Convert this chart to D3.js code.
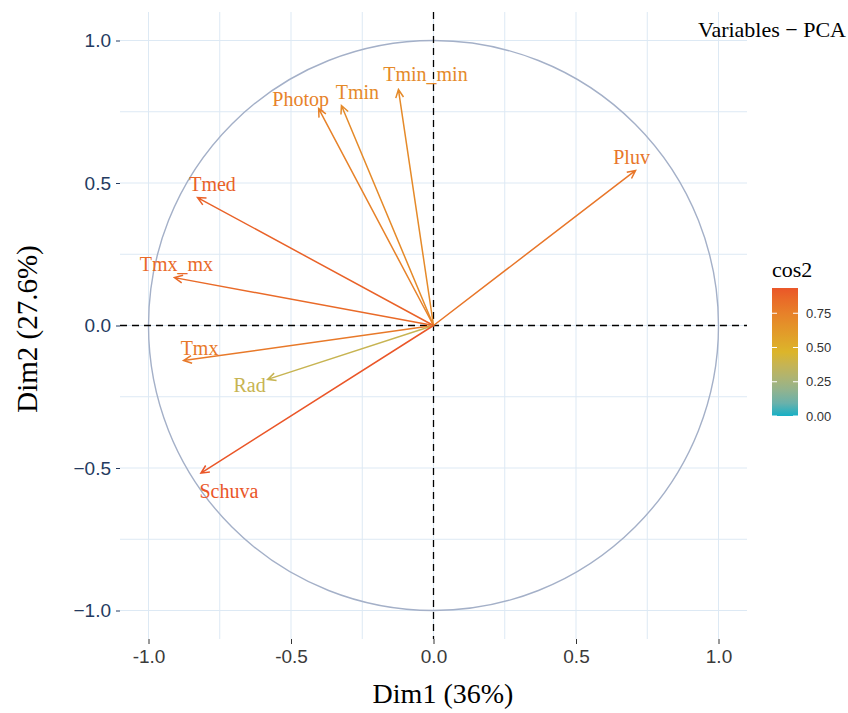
<!DOCTYPE html>
<html>
<head>
<meta charset="utf-8">
<script src="https://cdn.jsdelivr.net/npm/d3@7"></script>
<style>
  body { margin: 0; background: #ffffff; }
  svg { display: block; }
</style>
</head>
<body>
<div id="chart"></div>
<script>
// PCA variable coordinates
let variables = ["Pluv", "Tmin_min", "Tmin", "Photop", "Tmed", "Tmx_mx", "Tmx", "Rad", "Schuva"];
let dim1 = [0.709, -0.123, -0.323, -0.403, -0.828, -0.909, -0.877, -0.582, -0.816];
let dim2 = [0.544, 0.828, 0.772, 0.761, 0.449, 0.168, -0.123, -0.189, -0.518];

let xTicks = [-1.0, -0.5, 0.0, 0.5, 1.0];
let yTicks = [-1.0, -0.5, 0.0, 0.5, 1.0];
let legendTicks = [0, 0.25, 0.5, 0.75];

// label nudges in px (layout only)
let labelNudge = {
  Pluv: [-4, -13], Tmin_min: [27, -16], Tmin: [16, -13], Photop: [-18, -10],
  Tmed: [15, -14], Tmx_mx: [2, -14], Tmx: [16, -13], Rad: [-18, 6], Schuva: [28, 18]
};

let svgWidth = 848;
let svgHeight = 713;

let svg = d3.select("#chart")
  .append("svg")
  .attr("width", svgWidth)
  .attr("height", svgHeight);

let data = variables.map((v, i) => ({
  name: v, x: dim1[i], y: dim2[i], cos2: dim1[i] * dim1[i] + dim2[i] * dim2[i]
}));
let maxCos2 = d3.max(data, d => d.cos2);

let x = d3.scaleLinear().domain([-1.1, 1.1]).range([120, 747]);
let y = d3.scaleLinear().domain([-1.1, 1.1]).range([639, 12]);

let color = d3.scaleLinear()
  .domain([0, maxCos2 / 2, maxCos2])
  .range(["#16b0c6", "#dcb52a", "#ea5628"])
  .interpolate(d3.interpolateLab);

// grid
let gridCol = "#dde9f4";
let gridVals = d3.range(-1, 1.01, 0.25);
svg.append("g").selectAll("line").data(gridVals).enter().append("line")
  .attr("x1", d => x(d)).attr("x2", d => x(d))
  .attr("y1", y(1.1)).attr("y2", y(-1.1))
  .attr("stroke", gridCol).attr("stroke-width", 1);
svg.append("g").selectAll("line").data(gridVals).enter().append("line")
  .attr("y1", d => y(d)).attr("y2", d => y(d))
  .attr("x1", x(-1.1)).attr("x2", x(1.1))
  .attr("stroke", gridCol).attr("stroke-width", 1);

// correlation circle
svg.append("circle")
  .attr("cx", x(0)).attr("cy", y(0))
  .attr("r", x(1) - x(0))
  .attr("fill", "none")
  .attr("stroke", "#a4b0c8")
  .attr("stroke-width", 1.4);

// dashed axes
svg.append("line")
  .attr("x1", x(-1.1)).attr("x2", x(1.1))
  .attr("y1", y(0)).attr("y2", y(0))
  .attr("stroke", "#000").attr("stroke-width", 1.3)
  .attr("stroke-dasharray", "7,5");
svg.append("line")
  .attr("x1", x(0)).attr("x2", x(0))
  .attr("y1", y(1.1)).attr("y2", y(-1.1))
  .attr("stroke", "#000").attr("stroke-width", 1.3)
  .attr("stroke-dasharray", "7,5");

// axes
let xAxis = svg.append("g")
  .attr("transform", `translate(0, ${y(-1.1)})`)
  .call(d3.axisBottom(x).tickValues(xTicks).tickSize(5).tickPadding(6)
    .tickFormat(d => d3.format(".1f")(d).replace("\u2212", "-")));
let yAxis = svg.append("g")
  .attr("transform", `translate(${x(-1.1)}, 0)`)
  .call(d3.axisLeft(y).tickValues(yTicks).tickSize(4).tickPadding(5)
    .tickFormat(d3.format(".1f")));

xAxis.select(".domain").remove();
yAxis.select(".domain").remove();
xAxis.selectAll("text").attr("font-family", "Liberation Sans, Arial, sans-serif")
  .attr("font-size", 19).attr("fill", "#3a3a3a");
xAxis.selectAll("line").attr("stroke", "#333");
yAxis.selectAll("text").attr("font-family", "Liberation Sans, Arial, sans-serif")
  .attr("font-size", 19).attr("fill", "#243a60");
yAxis.selectAll("line").attr("stroke", "#243a60");

// arrows
let arrows = svg.append("g");
data.forEach(function(d) {
  let x0 = x(0), y0 = y(0), x1 = x(d.x), y1 = y(d.y);
  let ang = Math.atan2(y1 - y0, x1 - x0);
  let len = 9, spread = Math.PI / 7;
  let c = color(d.cos2);
  let path = `M${x0},${y0}L${x1},${y1}` +
    `M${x1 - len * Math.cos(ang - spread)},${y1 - len * Math.sin(ang - spread)}L${x1},${y1}` +
    `L${x1 - len * Math.cos(ang + spread)},${y1 - len * Math.sin(ang + spread)}`;
  arrows.append("path")
    .attr("d", path)
    .attr("fill", "none")
    .attr("stroke", c)
    .attr("stroke-width", 1.5);
  let n = labelNudge[d.name];
  arrows.append("text")
    .attr("x", x1 + n[0])
    .attr("y", y1 + n[1])
    .attr("text-anchor", "middle")
    .attr("dominant-baseline", "central")
    .attr("font-family", "Liberation Serif, Times New Roman, serif")
    .attr("font-size", 20)
    .attr("fill", c)
    .text(d.name);
});

// titles
svg.append("text")
  .attr("x", 846).attr("y", 37)
  .attr("text-anchor", "end")
  .attr("font-family", "Liberation Serif, Times New Roman, serif")
  .attr("font-size", 22)
  .text("Variables \u2212 PCA");

svg.append("text")
  .attr("x", 443).attr("y", 703)
  .attr("text-anchor", "middle")
  .attr("font-family", "Liberation Serif, Times New Roman, serif")
  .attr("font-size", 28)
  .text("Dim1 (36%)");

svg.append("text")
  .attr("transform", "translate(37, 329) rotate(-90)")
  .attr("text-anchor", "middle")
  .attr("font-family", "Liberation Serif, Times New Roman, serif")
  .attr("font-size", 29)
  .text("Dim2 (27.6%)");

// legend
let ly = d3.scaleLinear().domain([0, 1]).range([416, 279]);
let defs = svg.append("defs");
let grad = defs.append("linearGradient")
  .attr("id", "cosgrad")
  .attr("x1", "0").attr("y1", "1").attr("x2", "0").attr("y2", "0");
d3.range(0, 1.001, 0.1).forEach(function(t) {
  grad.append("stop")
    .attr("offset", t)
    .attr("stop-color", color(t * maxCos2));
});
svg.append("rect")
  .attr("x", 772).attr("y", ly(maxCos2))
  .attr("width", 26).attr("height", ly(0) - ly(maxCos2))
  .attr("fill", "url(#cosgrad)");

let lg = svg.append("g");
legendTicks.forEach(function(t) {
  lg.append("line").attr("x1", 772).attr("x2", 777)
    .attr("y1", ly(t)).attr("y2", ly(t))
    .attr("stroke", "#fff").attr("stroke-width", 1);
  lg.append("line").attr("x1", 793).attr("x2", 798)
    .attr("y1", ly(t)).attr("y2", ly(t))
    .attr("stroke", "#fff").attr("stroke-width", 1);
  lg.append("text")
    .attr("x", 806).attr("y", ly(t))
    .attr("dominant-baseline", "central")
    .attr("font-family", "Liberation Sans, Arial, sans-serif")
    .attr("font-size", 13)
    .attr("fill", "#333")
    .text(d3.format(".2f")(t));
});

svg.append("text")
  .attr("x", 772).attr("y", 277)
  .attr("font-family", "Liberation Serif, Times New Roman, serif")
  .attr("font-size", 22)
  .text("cos2");
</script>
</body>
</html>
